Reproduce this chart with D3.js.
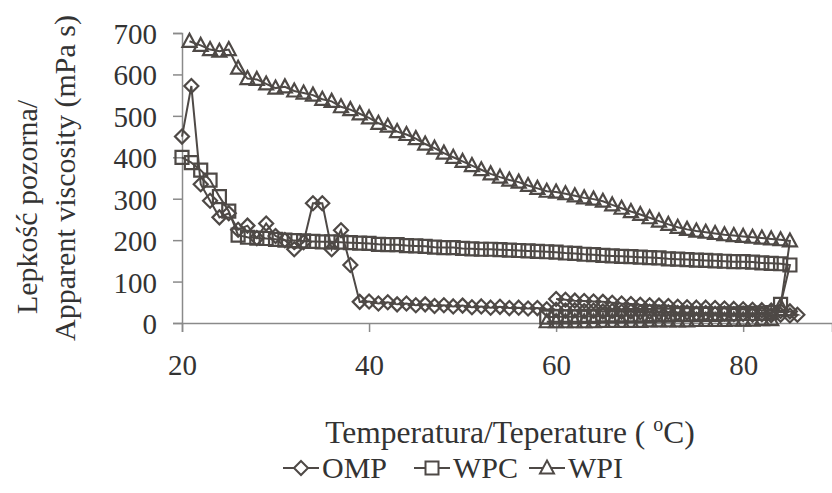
<!DOCTYPE html>
<html>
<head>
<meta charset="utf-8">
<script src="https://cdn.jsdelivr.net/npm/d3@7/dist/d3.min.js"></script>
</head>
<body style="margin:0">
<svg id="chart" width="832" height="493"></svg>
<script>
// OMP: heating run then cooling run
var ompTemps = [20,21,22,23,24,25,26,27,28,29,30,31,32,33,34,35,36,37,38,39,
	40,41,42,43,44,45,46,47,48,49,50,51,52,53,54,55,56,57,58,59,
	60,61,62,63,64,65,66,67,68,69,70,71,72,73,74,75,76,77,78,79,80,81,82,83,84,85,
	85.8,85,84,83,82,81,80,79,78,77,76,75,74,73,72,71,70,69,68,67,66,65,64,63,62,61,60];
var ompValues = [450,572,335,295,255,265,225,235,205,240,210,200,178,195,289,289,178,224,140,51,
	52,47,50,45,47,43,45,41,43,40,42,38,40,37,39,36,37,35,36,33,
	32,30,31,29,30,28,29,27,28,26,27,25,26,24,25,23,24,22,23,21,22,20,21,19,20,18,
	20,28,29,30,31,32,33,34,35,36,37,37,38,39,41,42,43,44,46,47,49,51,52,53,54,56,58];

var wpcTemps = [20,21,22,23,24,25,26,27,28,29,30,31,32,33,34,35,36,37,38,39,
	40,41,42,43,44,45,46,47,48,49,50,51,52,53,54,55,56,57,58,59,
	60,61,62,63,64,65,66,67,68,69,70,71,72,73,74,75,76,77,78,79,80,81,82,83,84,85,
	84,83,82,81,80,79,78,77,76,75,74,73,72,71,70,69,68,67,66,65,64,63,62,61,60,59];
var wpcValues = [400,387,369,345,305,270,212,207,205,204,202,200,199,198,197,196,196,195,194,193,
	192,190,189,189,187,186,185,183,182,182,180,179,178,178,177,176,175,174,173,172,
	171,169,168,166,165,163,162,161,160,159,158,157,155,154,153,152,151,150,149,148,148,147,145,144,143,140,
	45,25,24,23,23,22,22,21,21,20,20,20,19,19,18,18,18,17,17,17,16,16,15,15,15,14];

var wpiTemps = [20.8,22,23,24,25,26,27,28,29,30,31,32,33,34,35,36,37,38,39,
	40,41,42,43,44,45,46,47,48,49,50,51,52,53,54,55,56,57,58,59,
	60,61,62,63,64,65,66,67,68,69,70,71,72,73,74,75,76,77,78,79,80,81,82,83,84,85,
	84,83,82,81,80,79,78,77,76,75,74,73,72,71,70,69,68,67,66,65,64,63,62,61,60,59];
var wpiValues = [680,670,660,656,660,615,590,588,577,567,570,560,555,550,540,535,522,515,505,
	495,482,475,462,455,445,432,422,410,400,390,380,370,360,352,345,340,332,325,318,
	316,312,307,302,299,294,285,277,269,262,254,246,238,231,226,222,219,216,213,211,209,207,205,203,201,198,
	40,8,8,7,7,7,6,6,6,6,5,5,5,5,5,4,4,4,4,4,3,3,3,3,3,3];

var seriesNames = ["OMP", "WPC", "WPI"];
var xTicks = [20, 40, 60, 80];
var yTicks = [0, 100, 200, 300, 400, 500, 600, 700];

var ink = "#4e4946";
var textColor = "#333";

var shapes = {
	OMP: "M0,-7L7,0L0,7L-7,0Z",
	WPC: "M-6.5,-6.5H6.5V6.5H-6.5Z",
	WPI: "M0,-7.5L7,5.5L-7,5.5Z"
};

var series = [
	{name: "OMP", values: ompTemps.map(function(t, i){ return {t: t, v: ompValues[i]}; })},
	{name: "WPC", values: wpcTemps.map(function(t, i){ return {t: t, v: wpcValues[i]}; })},
	{name: "WPI", values: wpiTemps.map(function(t, i){ return {t: t, v: wpiValues[i]}; })}
];

function serifText(sel, size){
	return sel.style("font-family", "'Liberation Serif'").style("font-size", size + "px").style("fill", textColor);
}

var svg = d3.select("#chart");

var x = d3.scaleLinear().domain([20, 89.5]).range([182, 832]),
	y = d3.scaleLinear().domain([0, 700]).range([323, 33]);

// axes
var gx = svg.append("g")
	.attr("transform", "translate(0,323)")
	.call(d3.axisBottom(x).tickValues(xTicks).tickSize(9).tickPadding(22).tickFormat(d3.format("d")));
var gy = svg.append("g")
	.attr("transform", "translate(182,0)")
	.call(d3.axisLeft(y).tickValues(yTicks).tickSize(9).tickPadding(16));

[gx, gy].forEach(function(g){
	g.attr("font-family", null).attr("font-size", null);
	g.select(".domain").attr("stroke", "#8a8a8a").attr("stroke-width", 1.5);
	g.selectAll(".tick line").attr("stroke", "#8a8a8a").attr("stroke-width", 1.5);
	serifText(g.selectAll(".tick text"), 29);
});
gy.selectAll(".tick text").attr("dy", "0.36em");
gx.selectAll(".tick text").attr("dy", "0.71em");

// lines + markers
var line = d3.line()
	.x(function(d){ return x(d.t); })
	.y(function(d){ return y(d.v); });

var sg = svg.selectAll(".series")
	.data(series)
	.enter().append("g")
	.attr("class", "series");

sg.append("path")
	.attr("d", function(d){ return line(d.values); })
	.attr("fill", "none")
	.attr("stroke", ink)
	.attr("stroke-width", 2);

sg.each(function(s){
	d3.select(this).selectAll("path.mark")
		.data(s.values)
		.enter().append("path")
		.attr("class", "mark")
		.attr("d", shapes[s.name])
		.attr("transform", function(d){ return "translate(" + x(d.t) + "," + y(d.v) + ")"; })
		.attr("fill", "none")
		.attr("stroke", ink)
		.attr("stroke-width", 2.2);
});

// axis titles
var yt = svg.append("g").attr("transform", "rotate(-90)");
serifText(yt.append("text"), 30)
	.attr("x", -207).attr("y", 37)
	.attr("text-anchor", "middle")
	.text("Lepkość pozorna/");
serifText(yt.append("text"), 30)
	.attr("x", -178).attr("y", 75)
	.attr("text-anchor", "middle")
	.text("Apparent viscosity (mPa s)");

var xt = serifText(svg.append("text"), 31.5)
	.attr("x", 510).attr("y", 443)
	.attr("text-anchor", "middle");
xt.append("tspan").text("Temperatura/Teperature ( ");
xt.append("tspan").attr("dy", -12).style("font-size", "20px").text("o");
xt.append("tspan").attr("dy", 12).text("C)");

// legend
var legendX = [301, 432, 547];
var lg = svg.selectAll(".legend")
	.data(seriesNames)
	.enter().append("g")
	.attr("class", "legend")
	.attr("transform", function(d, i){ return "translate(" + legendX[i] + ",468)"; });
lg.append("line")
	.attr("x1", -18).attr("x2", 18)
	.attr("stroke", ink).attr("stroke-width", 2);
lg.append("path")
	.attr("d", function(d){ return shapes[d]; })
	.attr("fill", "#fff")
	.attr("stroke", ink)
	.attr("stroke-width", 2);
serifText(lg.append("text"), 30)
	.attr("x", 21).attr("y", 10)
	.text(function(d){ return d; });
</script>
</body>
</html>
